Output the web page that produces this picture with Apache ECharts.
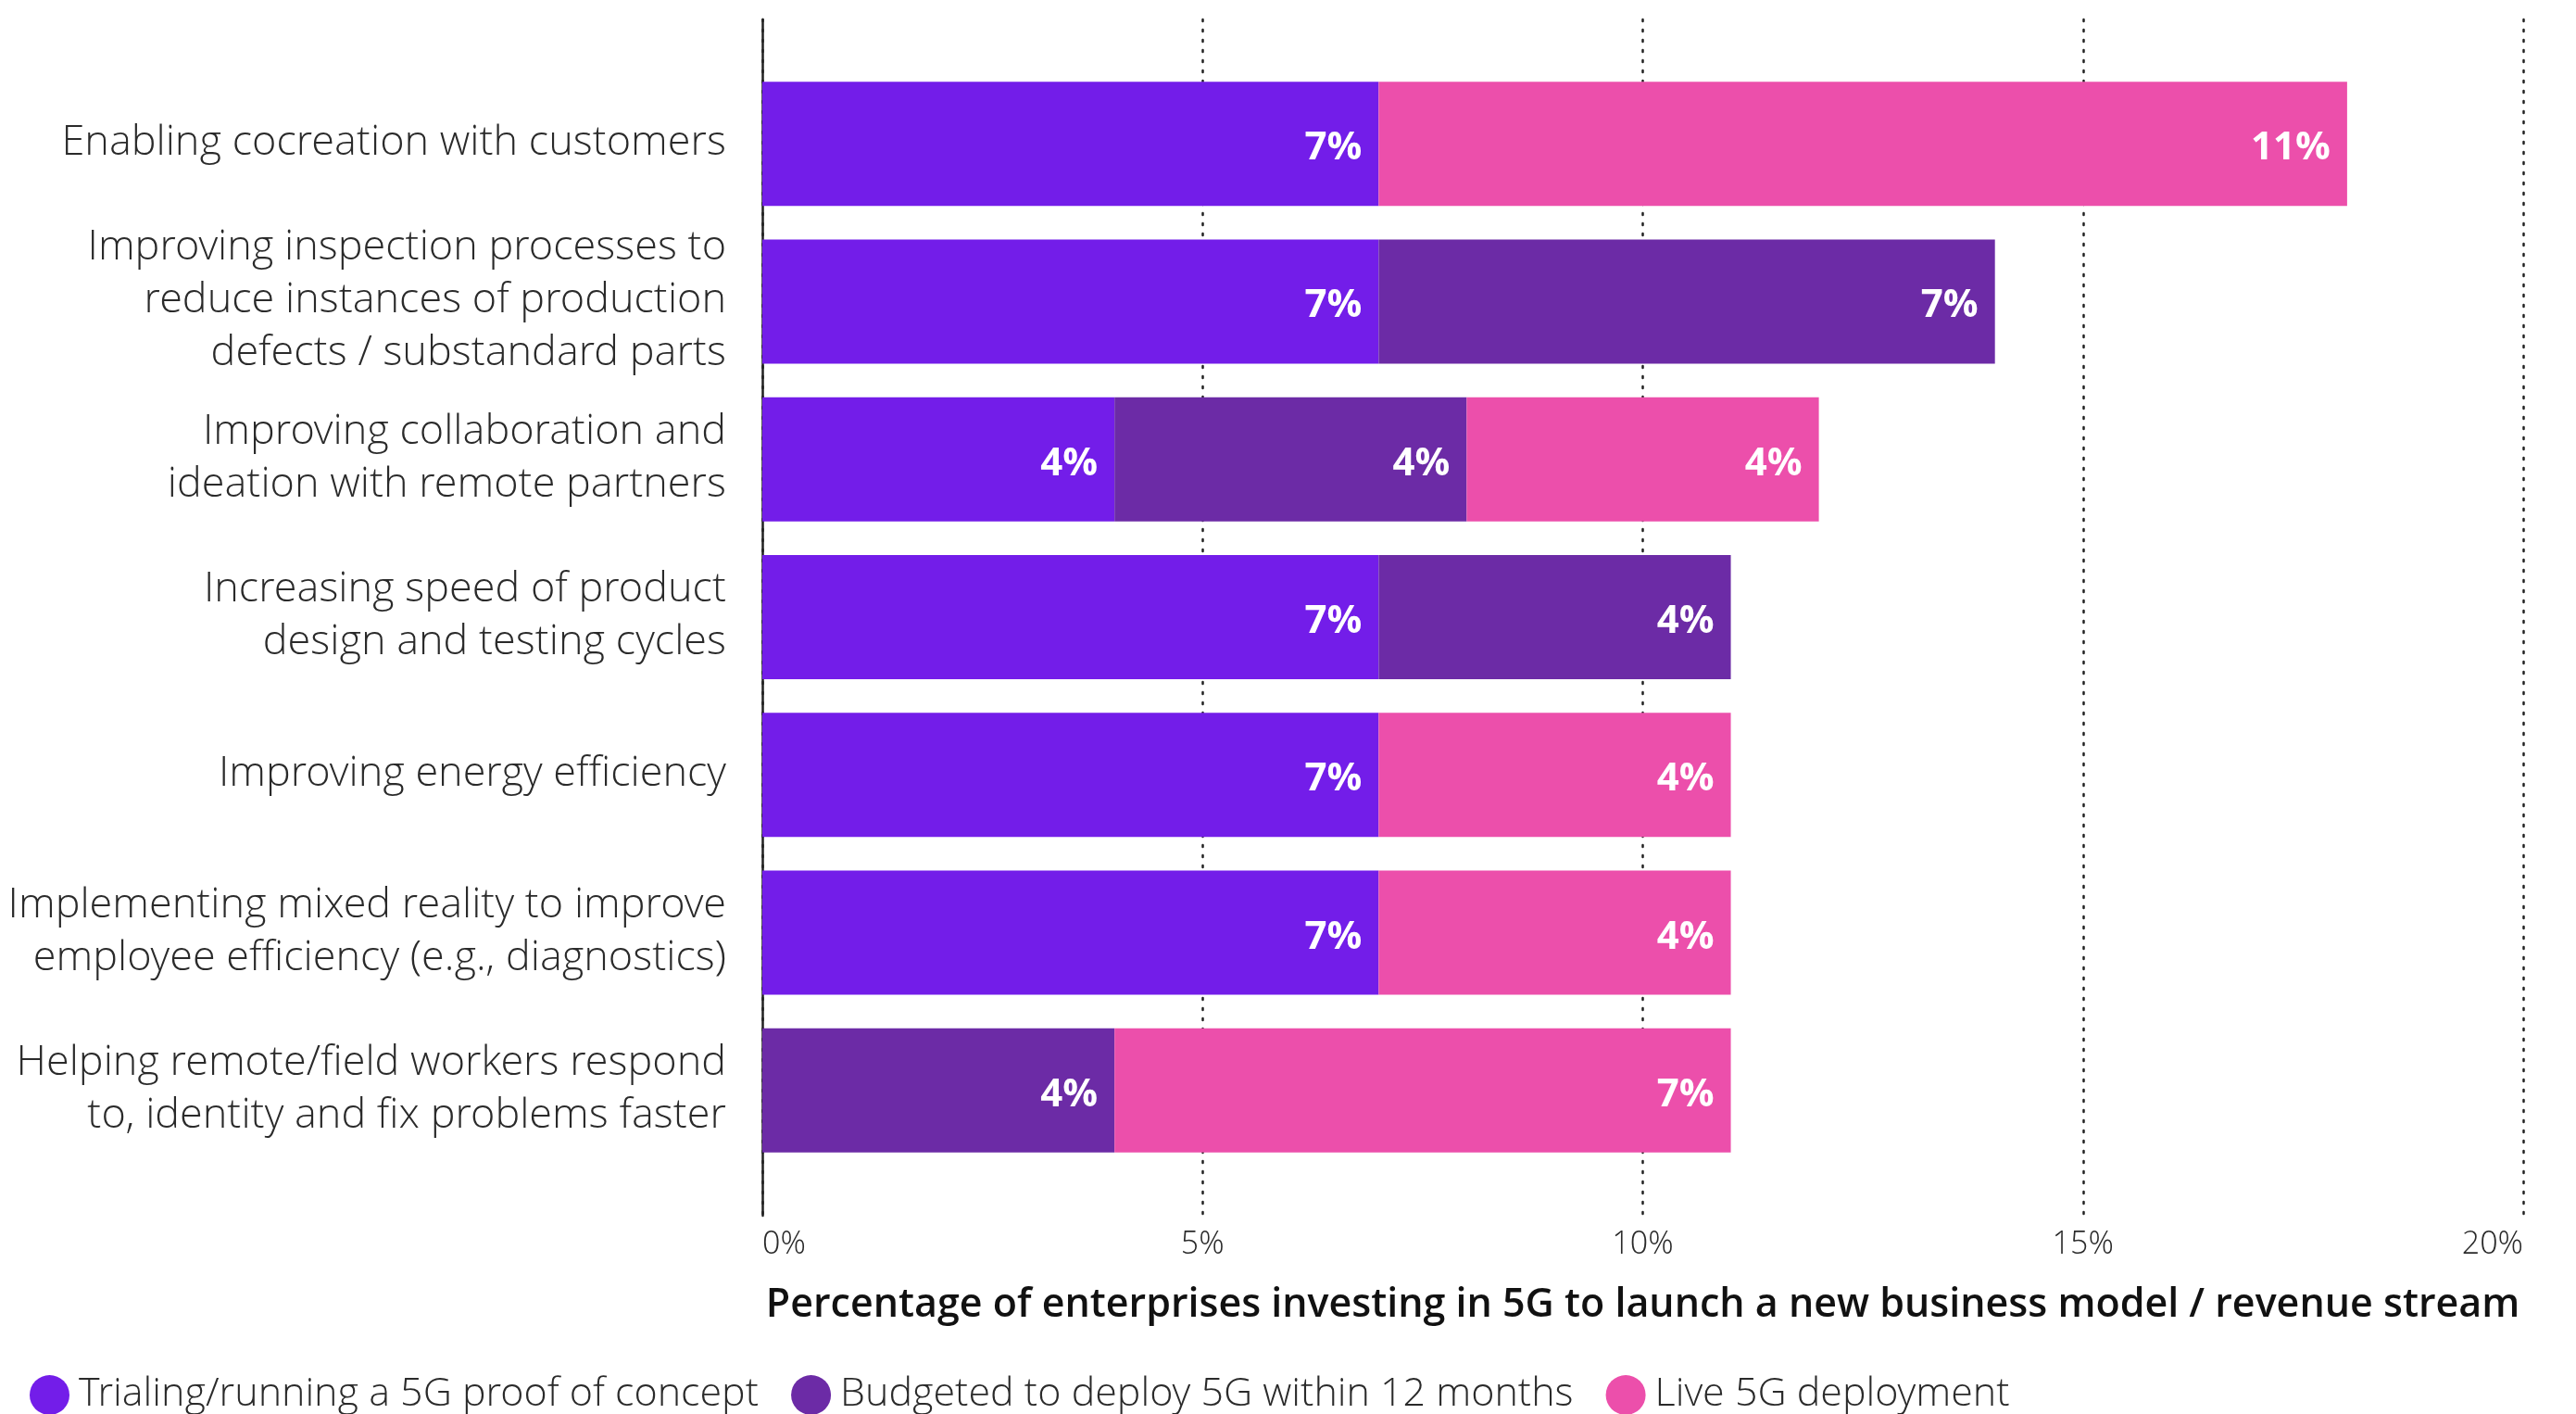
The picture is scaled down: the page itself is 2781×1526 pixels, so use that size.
<!DOCTYPE html>
<html>
<head>
<meta charset="utf-8">
<script src="https://cdn.jsdelivr.net/npm/echarts@6/dist/echarts.min.js"></script>
<style>
  html, body { margin: 0; padding: 0; background: #ffffff; }
  #chart { width: 2781px; height: 1526px; }
</style>
</head>
<body>
<div id="chart"></div>
<script>
// Use cases, top to bottom
const categories = [
  'Enabling cocreation with customers',
  'Improving inspection processes to\nreduce instances of production\ndefects / substandard parts',
  'Improving collaboration and\nideation with remote partners',
  'Increasing speed of product\ndesign and testing cycles',
  'Improving energy efficiency',
  'Implementing mixed reality to improve\nemployee efficiency (e.g., diagnostics)',
  'Helping remote/field workers respond\nto, identity and fix problems faster'
];

const seriesNames = [
  'Trialing/running a 5G proof of concept',
  'Budgeted to deploy 5G within 12 months',
  'Live 5G deployment'
];

// Share of enterprises (%) per stage
const trialing = [7, 7, 4, 7, 7, 7, 0];
const budgeted = [0, 7, 4, 4, 0, 0, 4];
const live     = [11, 0, 4, 0, 4, 4, 7];

const xTicks = [0, 5, 10, 15, 20];

const colors = ['#731DE9', '#6C2BA6', '#EC4FAB'];

const lightFont = "'Open Sans Light', 'Open Sans', sans-serif";

const chart = echarts.init(document.getElementById('chart'), null, { renderer: 'canvas' });

const valueLabel = {
  show: true,
  position: 'insideRight',
  distance: 18,
  offset: [0, 5],
  color: '#ffffff',
  fontFamily: 'Open Sans',
  fontWeight: 700,
  fontSize: 42,
  formatter: p => (p.value ? p.value + '%' : '')
};

function barSeries(name, data, color) {
  return {
    name: name,
    type: 'bar',
    stack: 'total',
    xAxisIndex: 1,
    yAxisIndex: 1,
    barWidth: 134,
    data: data,
    itemStyle: { color: color },
    label: valueLabel,
    emphasis: { disabled: true }
  };
}

chart.setOption({
  animation: false,
  color: colors,
  grid: [
    // frame: vertical axis line, dotted verticals and x labels
    { left: 823, right: 57, top: 21, bottom: 214, containLabel: false },
    // bar area
    { left: 823, right: 57, top: 70, height: 1192, containLabel: false }
  ],
  xAxis: [
    {
      gridIndex: 0,
      type: 'value',
      min: xTicks[0],
      max: xTicks[xTicks.length - 1],
      interval: 5,
      axisLine: { show: false },
      axisTick: { show: false },
      splitLine: {
        show: true,
        lineStyle: { color: '#222222', width: 2.5, type: [2, 9], cap: 'round' }
      },
      axisLabel: {
        margin: 15,
        color: '#2a2a2a',
        fontFamily: lightFont,
        fontWeight: 300,
        fontSize: 34,
        alignMinLabel: 'left',
        alignMaxLabel: 'right',
        formatter: v => v + '%'
      },
      name: 'Percentage of enterprises investing in 5G to launch a new business model / revenue stream',
      nameLocation: 'middle',
      nameGap: 75,
      nameTextStyle: {
        color: '#111111',
        fontFamily: 'Open Sans',
        fontWeight: 600,
        fontSize: 43
      }
    },
    {
      gridIndex: 1,
      type: 'value',
      min: xTicks[0],
      max: xTicks[xTicks.length - 1],
      show: false
    }
  ],
  yAxis: [
    {
      gridIndex: 0,
      type: 'value',
      min: 0,
      max: 1,
      axisLine: { show: true, lineStyle: { color: '#222222', width: 2.5 } },
      axisTick: { show: false },
      axisLabel: { show: false },
      splitLine: { show: false }
    },
    {
      gridIndex: 1,
      type: 'category',
      inverse: true,
      data: categories,
      axisLine: { show: false },
      axisTick: { show: false },
      splitLine: { show: false },
      axisLabel: {
        margin: 39,
        color: '#2a2a2a',
        fontFamily: lightFont,
        fontWeight: 300,
        fontSize: 45,
        lineHeight: 57,
        align: 'right'
      }
    }
  ],
  legend: {
    left: 32,
    top: 1484,
    padding: 0,
    icon: 'circle',
    itemWidth: 43,
    itemHeight: 43,
    itemGap: 35,
    selectedMode: false,
    data: seriesNames,
    textStyle: {
      color: '#2a2a2a',
      fontFamily: lightFont,
      fontWeight: 300,
      fontSize: 43,
      lineHeight: 43,
      padding: [0, 0, 0, 5]
    }
  },
  series: [
    barSeries(seriesNames[0], trialing, colors[0]),
    barSeries(seriesNames[1], budgeted, colors[1]),
    barSeries(seriesNames[2], live, colors[2])
  ]
});
</script>
</body>
</html>
